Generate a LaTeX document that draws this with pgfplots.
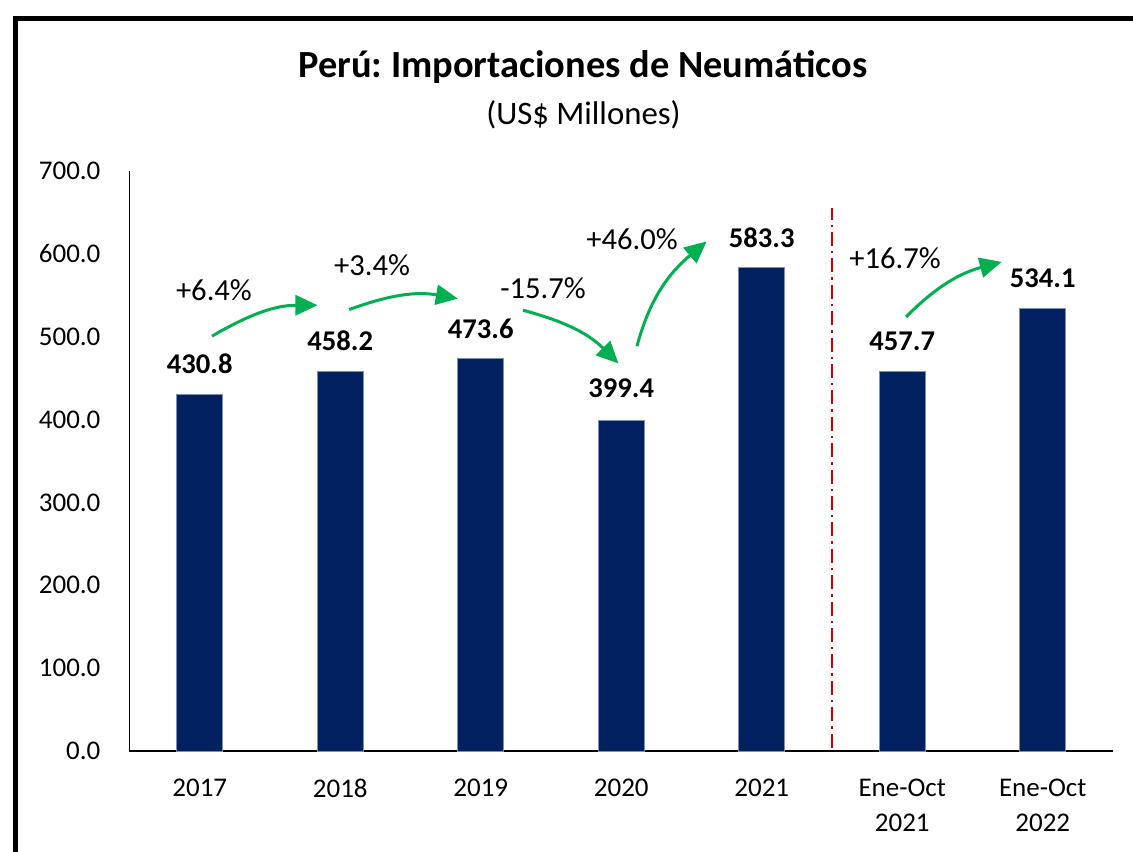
\documentclass[border=0pt]{standalone}
\usepackage{pgfplots}
\pgfplotsset{compat=1.18}
\usepackage{fontspec}
\setmainfont{Carlito}
\usetikzlibrary{arrows.meta}
\definecolor{barblue}{HTML}{002060}
\definecolor{baredge}{HTML}{7F8FB0}
\definecolor{arrgreen}{HTML}{00B050}
\definecolor{divred}{HTML}{D00000}
\frenchspacing

\begin{document}
\begin{tikzpicture}[x=1pt,y=1pt]
\begin{axis}[
    scale only axis,
    width=491.75pt, height=290pt,
    xmin=-0.5, xmax=6.5,
    ymin=0, ymax=700,
    ytick={0,100,...,700},
    xtick={0,...,6},
    xticklabels={2017,2018,2019,2020,2021,{Ene-Oct\\2021},{Ene-Oct\\2022}},
    axis x line*=bottom, axis y line*=left,
    x axis line style={line width=1pt},
    y axis line style={line width=0.8pt},
    major tick length=0pt,
    tick label style={font=\fontsize{13.5}{17.5}\selectfont},
    xticklabel style={align=center, anchor=north, yshift=-10.5pt},
    yticklabel style={anchor=east, xshift=-11pt},
    /pgf/number format/assume math mode=true,
    yticklabel={\pgfmathprintnumber[fixed,fixed zerofill,precision=1]{\tick}},
    clip=false,
]
\coordinate (O) at (axis cs:-0.5,0);
\addplot[ybar, bar width=23pt, fill=barblue, draw=baredge, line width=0.4pt] coordinates {
    (0,430.8) (1,458.2) (2,473.6) (3,399.4) (4,583.3) (5,457.7) (6,534.1)
};
% divider
\draw[divred, line width=1pt, dash pattern=on 7pt off 2.5pt on 1.2pt off 2.5pt]
    (axis cs:4.5,4) -- (axis cs:4.5,655);
% value labels
\begin{scope}[every node/.style={font=\fontsize{14.3}{17}\selectfont\bfseries, anchor=center}]
\node at (axis cs:0,468) {430.8};
\node at (axis cs:1,494.6) {458.2};
\node at (axis cs:2,510) {473.6};
\node at (axis cs:3,438) {399.4};
\node at (axis cs:4,619.5) {583.3};
\node at (axis cs:5,494.6) {457.7};
\node at (axis cs:6,570.6) {534.1};
\end{scope}
% growth labels
\begin{scope}[every node/.style={font=\fontsize{15.3}{18}\selectfont, anchor=center}]
\node at (axis cs:0.101,556) {+6.4\%};
\node at (axis cs:1.226,586) {+3.4\%};
\node at (axis cs:2.443,558.6) {-15.7\%};
\node at (axis cs:3.077,617.7) {+46.0\%};
\node at (axis cs:4.949,594.8) {+16.7\%};
\end{scope}
% growth arrows
\begin{scope}[arrgreen, line width=1.5pt, -{Triangle[length=11pt,width=10pt]}]
\draw (axis cs:0.087,500.7) to[out=30,in=180] (axis cs:0.838,538);
\draw (axis cs:1.064,532.8) to[out=20,in=170] (axis cs:1.837,546);
\draw (axis cs:2.30,532) to[out=-15,in=135] (axis cs:2.98,467.7);
\draw (axis cs:3.112,488.6) to[out=75,in=220] (axis cs:3.608,615);
\draw (axis cs:5.027,524) to[out=45,in=195] (axis cs:5.708,590.3);
\end{scope}
\end{axis}
\begin{scope}[shift={(O)}, xshift=-64.75pt, yshift=-50pt]
% frame (cut at right and bottom)
\draw[line width=2.3pt] (7.75,-10) -- (7.75,416.25) -- (580,416.25);
% titles
\node[anchor=base, font=\fontsize{19.2}{22}\selectfont\bfseries] at (291.5,386.5) {Perú: Importaciones de Neumáticos};
\node[anchor=base, font=\fontsize{16.4}{19}\selectfont] at (291.75,363) {(US\$ Millones)};
\pgfresetboundingbox
\useasboundingbox (0,0) rectangle (566.5,425.5);
\end{scope}
\end{tikzpicture}
\end{document}
